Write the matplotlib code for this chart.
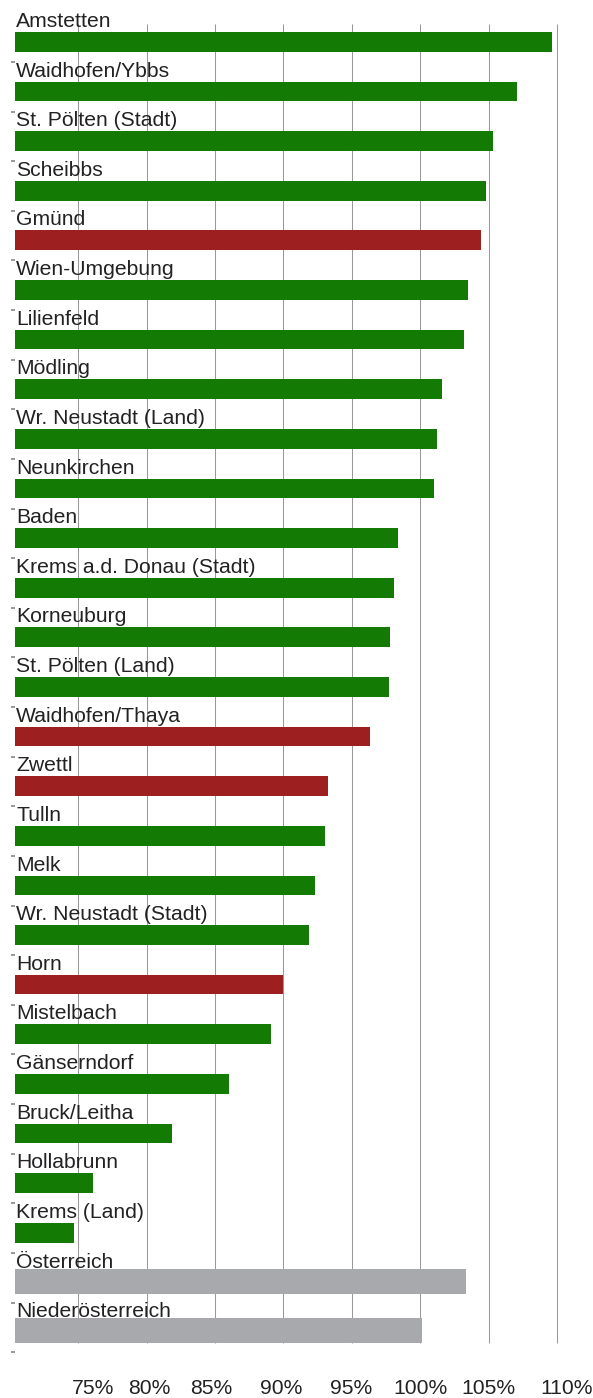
import matplotlib
matplotlib.use("Agg")
import matplotlib.pyplot as plt
import matplotlib.transforms as mtransforms
import numpy as np

plt.rcParams["font.family"] = ["Liberation Sans", "DejaVu Sans"]

# index values (%) per district, top to bottom
districts = ["Amstetten", "Waidhofen/Ybbs", "St. Pölten (Stadt)", "Scheibbs",
             "Gmünd", "Wien-Umgebung", "Lilienfeld", "Mödling",
             "Wr. Neustadt (Land)", "Neunkirchen", "Baden",
             "Krems a.d. Donau (Stadt)", "Korneuburg", "St. Pölten (Land)",
             "Waidhofen/Thaya", "Zwettl", "Tulln", "Melk",
             "Wr. Neustadt (Stadt)", "Horn", "Mistelbach", "Gänserndorf",
             "Bruck/Leitha", "Hollabrunn", "Krems (Land)", "Österreich",
             "Niederösterreich"]
values = [109.6, 107.04, 105.29, 104.78, 104.43, 103.51, 103.19, 101.59,
          101.2, 101.02, 98.39, 98.1, 97.79, 97.71, 96.33, 93.26, 93.04,
          92.33, 91.89, 89.99, 89.07, 86.0, 81.85, 76.08, 74.71, 103.34,
          100.12]
# group: "w" = Waldviertel, "ref" = reference totals, "" = other
groups = ["", "", "", "", "w", "", "", "", "", "", "", "", "", "", "w", "w",
          "", "", "", "w", "", "", "", "", "", "ref", "ref"]
xticks = [75, 80, 85, 90, 95, 100, 105, 110]
xtick_labels = [f"{t}%" for t in xticks]

GREEN = "#137b03"
RED = "#9e1f1f"
GRAY = "#a8a9ad"
INK = "#222222"
GRID = "#999999"

W, H = 593, 1398
L, R, T, B = 14.5, 593, 12, 1358          # axes box in pixels
px_per_pct, x100 = 13.69, 420.3
row_px, row0 = 49.62, 41.85               # bar centre of first row

fig = plt.figure(figsize=(W / 100, H / 100), dpi=100)
ax = fig.add_axes([L / W, (H - B) / H, (R - L) / W, (B - T) / H])
xmin = 100 - (x100 - L) / px_per_pct
xmax = 100 + (R - x100) / px_per_pct
ax.set_xlim(xmin, xmax)
ax.set_ylim((B - row0) / row_px, (T - row0) / row_px)

y = np.arange(len(districts))
colors = [RED if g == "w" else GRAY if g == "ref" else GREEN for g in groups]
ref = np.array([g == "ref" for g in groups])
heights = np.where(ref, 0.508, 0.397)
offsets = np.where(ref, -0.025, 0.0)
vals = np.array(values)
ax.barh(y + offsets, vals - xmin, left=xmin, height=heights, color=colors,
        lw=0, zorder=2)

# grid lines (stop short of the axes box)
ax.vlines(xticks, (24 - row0) / row_px, (1343 - row0) / row_px,
          color=GRID, lw=0.75, zorder=1)

# category labels above each bar
tr = mtransforms.blended_transform_factory(ax.transAxes, ax.transData)
for i, name in enumerate(districts):
    ax.text(0.0026, i - 14.85 / row_px, name, transform=tr, ha="left",
            va="baseline", fontsize=15.2, color=INK, zorder=3)

ax.set_yticks(y + (62 - row0) / row_px)
ax.set_yticklabels([])
ax.tick_params(axis="y", length=3, width=1.2, color="#888888")

ax.set_xticks(xticks, xtick_labels)
ax.tick_params(axis="x", length=0, pad=15, labelsize=15.2, labelcolor=INK)
nudges = [15, 3, -4, -2, -1, 0, 0, 9]
for lab, dx in zip(ax.get_xticklabels(), nudges):
    lab.set_transform(lab.get_transform() +
                      mtransforms.ScaledTranslation(dx / 100, 0,
                                                    fig.dpi_scale_trans))

for sp in ax.spines.values():
    sp.set_visible(False)
ax.grid(False)

fig.savefig("out.png", dpi=100)
